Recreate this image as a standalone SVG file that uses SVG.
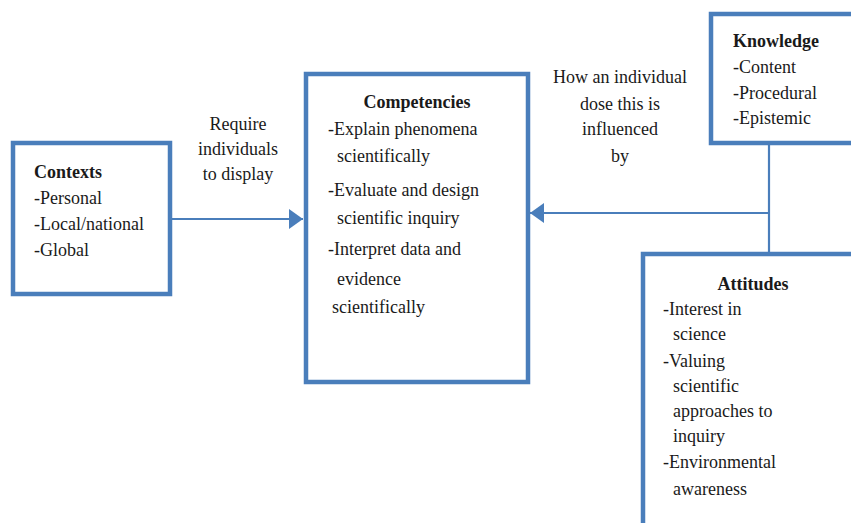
<svg xmlns="http://www.w3.org/2000/svg" width="851" height="523" viewBox="0 0 851 523">
<defs>
<style>
.box{fill:#fff;stroke:#4a7ebb;stroke-width:4.5}
.con{fill:none;stroke:#4a7ebb;stroke-width:2.2}
.tx{font-family:'Liberation Serif','Times New Roman',Times,serif;font-size:18px;fill:#1a1a1a}
.t{font-weight:bold}
.c{text-anchor:middle}
</style>
<marker id="ah" viewBox="0 0 14 20" refX="14" refY="10" markerWidth="14" markerHeight="20" markerUnits="userSpaceOnUse" orient="auto">
<path d="M0,0 L14,10 L0,20 z" fill="#4a7ebb"/>
</marker>
</defs>
<rect width="851" height="523" fill="#fff"/>
<g id="connectors">
<line class="con" x1="171" y1="219" x2="303" y2="219" marker-end="url(#ah)"/>
<line class="con" x1="769" y1="143" x2="769" y2="254"/>
<line class="con" x1="769" y1="213" x2="530" y2="213" marker-end="url(#ah)"/>
</g>
<g id="contexts" class="tx">
<rect class="box" x="13" y="143" width="157" height="151"/>
<text class="t" x="34" y="178">Contexts</text>
<text x="34" y="204">-Personal</text>
<text x="34" y="230">-Local/national</text>
<text x="34" y="256">-Global</text>
</g>
<g id="label-require" class="tx">
<text class="c" x="238" y="130">Require</text>
<text class="c" x="238" y="155">individuals</text>
<text class="c" x="238" y="180">to display</text>
</g>
<g id="competencies" class="tx">
<rect class="box" x="306" y="74" width="222" height="308"/>
<text class="t c" x="417" y="108">Competencies</text>
<text x="328" y="135">-Explain phenomena</text>
<text x="337" y="162">scientifically</text>
<text x="328" y="196">-Evaluate and design</text>
<text x="337" y="224">scientific inquiry</text>
<text x="328" y="255">-Interpret data and</text>
<text x="337" y="285">evidence</text>
<text x="332" y="313">scientifically</text>
</g>
<g id="label-how" class="tx">
<text class="c" x="620" y="83">How an individual</text>
<text class="c" x="620" y="110">dose this is</text>
<text class="c" x="620" y="135">influenced</text>
<text class="c" x="620" y="162">by</text>
</g>
<g id="knowledge" class="tx">
<rect class="box" x="711" y="14" width="160" height="129"/>
<text class="t" x="733" y="47">Knowledge</text>
<text x="733" y="73">-Content</text>
<text x="733" y="99">-Procedural</text>
<text x="733" y="124">-Epistemic</text>
</g>
<g id="attitudes" class="tx">
<rect class="box" x="643" y="254" width="230" height="290"/>
<text class="t c" x="753" y="290">Attitudes</text>
<text x="663" y="315">-Interest in</text>
<text x="673" y="340">science</text>
<text x="663" y="367">-Valuing</text>
<text x="673" y="392">scientific</text>
<text x="673" y="417">approaches to</text>
<text x="673" y="442">inquiry</text>
<text x="663" y="468">-Environmental</text>
<text x="673" y="495">awareness</text>
</g>
</svg>
